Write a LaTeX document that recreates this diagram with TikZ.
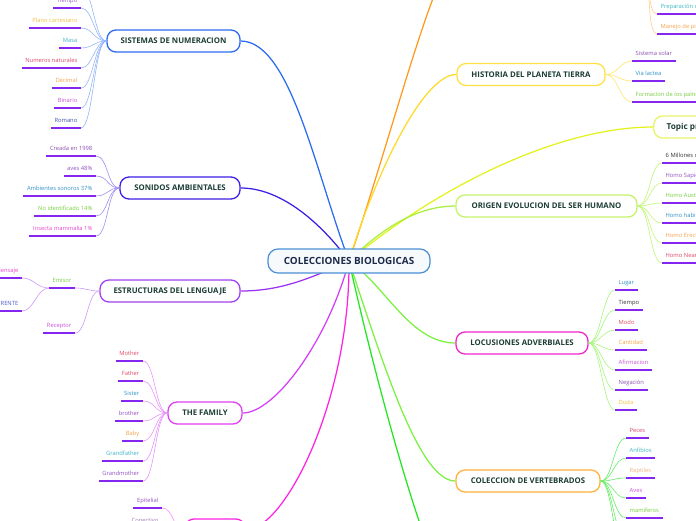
\documentclass[tikz,border=0pt]{standalone}
\usepackage{fontspec}
\setmainfont{Open Sans}
\usetikzlibrary{backgrounds}
\definecolor{cenB}{HTML}{4A8FD4}
\definecolor{cenF}{HTML}{F7FAFD}
\definecolor{cenT}{HTML}{1B2A4A}
\definecolor{nT}{HTML}{1C3D35}
\definecolor{ulc}{HTML}{8526F0}
\definecolor{cBlue}{HTML}{2B6BF3}
\definecolor{cViol}{HTML}{3B1FE6}
\definecolor{cOr}{HTML}{FF9A1F}
\definecolor{cYel}{HTML}{FFD92A}
\definecolor{cYG}{HTML}{E3F21C}
\definecolor{cLG}{HTML}{A8F03A}
\definecolor{cGr}{HTML}{7BF23F}
\definecolor{cBG}{HTML}{22E622}
\definecolor{cMag}{HTML}{FF22E0}
\definecolor{cFam}{HTML}{D33FF6}
\definecolor{cPur}{HTML}{9A33F2}
\definecolor{bLoc}{HTML}{F025C8}
\definecolor{bVer}{HTML}{FFB23A}
\definecolor{bHis}{HTML}{FFE045}
\definecolor{bTop}{HTML}{E6F56A}
\definecolor{bOri}{HTML}{C4F36A}
\definecolor{bFam}{HTML}{E040F2}
\definecolor{bEst}{HTML}{A040F0}
\definecolor{tPur}{HTML}{9050C0}
\definecolor{tPurB}{HTML}{8A4FB0}
\definecolor{tYel}{HTML}{F2C040}
\definecolor{tTeal}{HTML}{3BB5C4}
\definecolor{tCrim}{HTML}{D8466A}
\definecolor{tOr}{HTML}{F4A24A}
\definecolor{tMag}{HTML}{C850D6}
\definecolor{tNavy}{HTML}{3F4FB0}
\definecolor{tBlue}{HTML}{2F8FC4}
\definecolor{tGreen}{HTML}{76CC3E}
\definecolor{tPink}{HTML}{E645CF}
\definecolor{tRed}{HTML}{E04A62}
\definecolor{tGray}{HTML}{333333}
\definecolor{tRef}{HTML}{4A5AC8}
\definecolor{tPeach}{HTML}{F4B080}
\definecolor{tCon}{HTML}{9A7AB0}
\tikzset{
  mn/.style={draw, line width=1.3pt, rounded corners=9pt, fill=white,
    minimum height=22pt, inner sep=0pt, text height=5.7pt, text depth=0pt,
    font=\fontsize{7.8}{9}\selectfont\bfseries, text=nT},
  leafL/.style={anchor=south east, inner xsep=3.5pt, inner ysep=4pt,
    text height=4.3pt, text depth=1.5pt, font=\fontsize{5.8}{7}\selectfont},
  leafR/.style={leafL, anchor=south west},
  ul/.style={line width=2pt, ulc},
  lk/.style={line width=0.6pt},
  mc/.style={line width=1.25pt},
}
\newcommand\LL[7]{%
  \node[leafL,text=#4] (#1) at (#2,#3) {#5};
  \draw[ul] (#1.south west) -- (#1.south east);
  \draw[lk,#7] (#6) .. controls +(-12,0) and +(12,0) .. (#1.south east);
}
\newcommand\LR[7]{%
  \node[leafR,text=#4] (#1) at (#2,#3) {#5};
  \draw[ul] (#1.south west) -- (#1.south east);
  \draw[lk,#7] (#6) .. controls +(12,0) and +(-12,0) .. (#1.south west);
}
\begin{document}
\begin{tikzpicture}[x=1pt,y=-1pt]
\useasboundingbox (0,0) rectangle (696,520);
\clip (0,0) rectangle (696,520);

% central
\node[draw=cenB, line width=1.2pt, fill=cenF, rounded corners=10pt,
  minimum width=162pt, minimum height=24pt, inner sep=0pt, text height=6.6pt, text depth=0pt,
  font=\fontsize{9.9}{12}\selectfont\bfseries, text=cenT] (cen) at (349,261) {COLECCIONES BIOLOGICAS};

% main topics
\node[mn, draw=cBlue, minimum width=133pt] (sis) at (173.5,41) {SISTEMAS DE NUMERACION};
\node[mn, draw=cViol, minimum width=120pt] (son) at (180,188) {SONIDOS AMBIENTALES};
\node[mn, draw=bEst, minimum width=140pt] (est) at (170,291) {ESTRUCTURAS DEL LENGUAJE};
\node[mn, draw=bFam, minimum width=74pt] (fam) at (205,413) {THE FAMILY};
\node[mn, draw=cMag, minimum width=60pt] (tej) at (215,530) {};
\node[mn, draw=cOr, minimum width=184pt] (orh) at (548,-40) {};
\node[mn, draw=bHis, minimum width=148pt] (his) at (531,74.5) {HISTORIA DEL PLANETA TIERRA};
\node[mn, draw=bTop, anchor=west, inner xsep=13pt, font=\fontsize{8.2}{10}\selectfont\bfseries] (top) at (653,127) {Topic principal};
\node[mn, draw=bOri, minimum width=181pt] (ori) at (546.5,206) {ORIGEN EVOLUCION DEL SER HUMANO};
\node[mn, draw=bLoc, minimum width=132pt] (loc) at (522,343) {LOCUSIONES ADVERBIALES};
\node[mn, draw=bVer, minimum width=144pt] (ver) at (528,481) {COLECCION DE VERTEBRADOS};
\node[mn, draw=cBG, minimum width=150pt, anchor=west] (bot) at (470,620) {};

\begin{pgfonlayer}{background}
\draw[mc, cBlue] (cen.center) .. controls (315,170) and (290,41) .. (sis.east);
\draw[mc, cViol] (cen.center) .. controls (330,235) and (288,188) .. (son.east);
\draw[mc, cOr] (cen.center) .. controls (392,135) and (436,-40) .. (orh.west);
\draw[mc, cYel] (cen.center) .. controls (370,190) and (420,74.5) .. (his.west);
\draw[mc, cYG] (cen.center) .. controls (440,185) and (560,127) .. (top.west);
\draw[mc, cLG] (cen.center) .. controls (385,225) and (420,206) .. (ori.west);
\draw[mc, cPur] (cen.center) .. controls (309,279) and (280,291) .. (est.east);
\draw[mc, cFam] (cen.center) .. controls (328,340) and (275,413) .. (fam.east);
\draw[mc, cMag] (cen.center) .. controls (350,400) and (285,530) .. (tej.east);
\draw[mc, cBG] (cen.center) .. controls (380,400) and (440,620) .. (bot.west);
\draw[mc, cGr] (cen.center) .. controls (385,285) and (410,343) .. (loc.west);
\draw[mc, cGr] (cen.center) .. controls (385,370) and (420,481) .. (ver.west);
\end{pgfonlayer}

% SISTEMAS leaves
\coordinate (sisx) at (81,-12);
\draw[lk,cBlue!50] (sis.west) .. controls +(-12,0) and +(12,0) .. (sisx);
\LL{s1}{81}{8}{tPur}{Tiempo}{sis.west}{cBlue!50}
\LL{s2}{81}{28}{tYel}{Plano cartesiano}{sis.west}{cBlue!50}
\LL{s3}{81}{48}{tTeal}{Masa}{sis.west}{cBlue!50}
\LL{s4}{81}{68}{tCrim}{Numeros naturales}{sis.west}{cBlue!50}
\LL{s5}{81}{88}{tOr}{Decimal}{sis.west}{cBlue!50}
\LL{s6}{81}{108}{tMag}{Binario}{sis.west}{cBlue!50}
\LL{s7}{81}{128}{tNavy}{Romano}{sis.west}{cBlue!50}

% SONIDOS leaves
\LL{a1}{96}{156}{tPurB}{Creada en 1998}{son.west}{cViol!50}
\LL{a2}{96}{176}{tPur}{aves 48\%}{son.west}{cViol!50}
\LL{a3}{96}{196}{tBlue}{Ambientes sonoros 37\%}{son.west}{cViol!50}
\LL{a4}{96}{216}{tGreen}{No identificado 14\%}{son.west}{cViol!50}
\LL{a5}{96}{236}{tPink}{Insecta mammalia 1\%}{son.west}{cViol!50}

% ESTRUCTURAS leaves
\LL{e1}{75}{288}{tGreen}{Emisor}{est.west}{cPur!50}
\LL{e2}{75}{333}{tMag}{Receptor}{est.west}{cPur!50}
\LL{e3}{22}{278}{tPink}{Mensaje}{e1.south west}{cPur!50}
\LL{e4}{22}{311}{tRef}{REFERENTE}{e1.south west}{cPur!50}

% FAMILY leaves
\LL{f1}{143}{361}{tRed}{Mother}{fam.west}{cFam!55}
\LL{f2}{143}{381}{tRed}{Father}{fam.west}{cFam!55}
\LL{f3}{143}{401}{tBlue}{Sister}{fam.west}{cFam!55}
\LL{f4}{143}{421}{tPur}{brother}{fam.west}{cFam!55}
\LL{f5}{143}{441}{tOr}{Baby}{fam.west}{cFam!55}
\LL{f6}{143}{461}{tTeal}{Grandfather}{fam.west}{cFam!55}
\LL{f7}{143}{481}{tPur}{Grandmother}{fam.west}{cFam!55}

% bottom-left hidden topic leaves
\LL{t1}{162}{508}{tPur}{Epitelial}{tej.west}{cMag!50}
\LL{t2}{162}{528}{tCon}{Conectivo}{tej.west}{cMag!50}

% top orange hidden topic leaves
\LR{o1}{657}{14}{tTeal}{Preparación de}{orh.east}{cOr!50}
\LR{o2}{657}{34}{tOr}{Manejo de piezas}{orh.east}{cOr!50}

% HISTORIA leaves
\LR{h1}{632}{61}{tPurB}{Sistema solar}{his.east}{cYel!70}
\LR{h2}{632}{81}{tBlue}{Via lactea}{his.east}{cYel!70}
\LR{h3}{632}{102}{tGreen}{Formacion de los palnetas}{his.east}{cYel!70}

% ORIGEN leaves
\LR{g1}{662}{163}{tGray}{6 Millones de años}{ori.east}{cLG!70}
\LR{g2}{662}{183}{tPur}{Homo Sapiens}{ori.east}{cLG!70}
\LR{g3}{662}{203}{tGreen}{Homo Australopithecus}{ori.east}{cLG!70}
\LR{g4}{662}{223}{tBlue}{Homo habilis}{ori.east}{cLG!70}
\LR{g5}{662}{243}{tOr}{Homo Erectus}{ori.east}{cLG!70}
\LR{g6}{662}{263}{tCrim}{Homo Neanderthal}{ori.east}{cLG!70}

% LOCUSIONES leaves
\LR{l1}{615}{290}{tBlue}{Lugar}{loc.east}{cGr!70}
\LR{l2}{615}{310}{tGray}{Tiempo}{loc.east}{cGr!70}
\LR{l3}{615}{330}{tRed}{Modo}{loc.east}{cGr!70}
\LR{l4}{615}{350}{tOr}{Cantidad}{loc.east}{cGr!70}
\LR{l5}{615}{370}{tMag}{Afirmacion}{loc.east}{cGr!70}
\LR{l6}{615}{390}{tPurB}{Negación}{loc.east}{cGr!70}
\LR{l7}{615}{410}{tYel}{Duda}{loc.east}{cGr!70}

% VERTEBRADOS leaves
\LR{v1}{626}{438}{tCrim}{Peces}{ver.east}{cBG!70}
\LR{v2}{626}{458}{tTeal}{Anfibios}{ver.east}{cBG!70}
\LR{v3}{626}{478}{tPeach}{Reptiles}{ver.east}{cBG!70}
\LR{v4}{626}{498}{tMag}{Aves}{ver.east}{cBG!70}
\LR{v5}{626}{518}{tGreen}{mamiferos}{ver.east}{cBG!70}
\coordinate (v6) at (626,538);
\coordinate (v7) at (626,558);
\draw[lk,cBG!70] (ver.east) .. controls +(12,0) and +(-12,0) .. (v6);
\draw[lk,cBG!70] (ver.east) .. controls +(12,0) and +(-12,0) .. (v7);
\end{tikzpicture}
\end{document}
